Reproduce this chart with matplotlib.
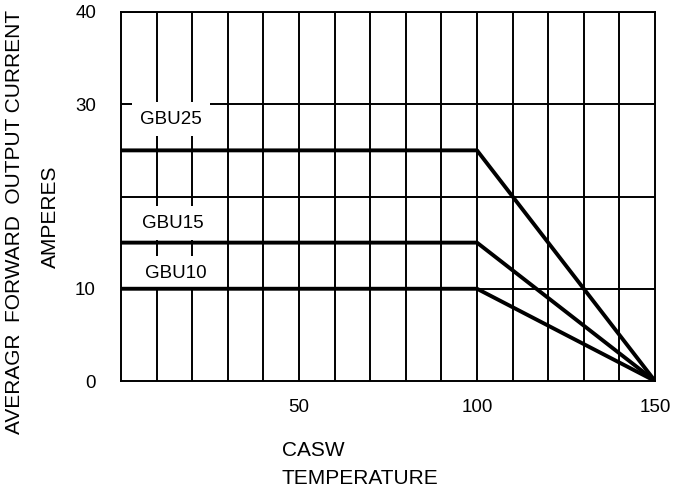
import matplotlib
matplotlib.use("Agg")
import matplotlib.pyplot as plt

plt.rcParams['font.family'] = ['Liberation Sans', 'DejaVu Sans']

temps = [0, 100, 150]
series_names = ["GBU25", "GBU15", "GBU10"]
gbu25 = [25, 25, 0]
gbu15 = [15, 15, 0]
gbu10 = [10, 10, 0]
label_pos = {"GBU25": (14.0, 28.4), "GBU15": (14.6, 17.1), "GBU10": (15.4, 11.7)}

x_ticks = [50, 100, 150]
y_ticks = [0, 10, 30, 40]
y_grid = [10, 20, 30, 40]

fig = plt.figure(figsize=(6.85, 4.91), dpi=100)
ax = fig.add_axes([121/685, 1-381/491, (655-121)/685, (381-12)/491])

ax.set_xlim(0, 150)
ax.set_ylim(0, 40)

for xv in range(10, 150, 10):
    ax.axvline(xv, color='black', lw=1.4, zorder=1)
for yv in y_grid:
    ax.axhline(yv, color='black', lw=1.4, zorder=1)

for name, vals in zip(series_names, [gbu25, gbu15, gbu10]):
    ax.plot(temps, vals, color='black', lw=2.8, zorder=4, solid_capstyle='butt')
    lx, ly = label_pos[name]
    ax.text(lx, ly, name, fontsize=13.5, ha='center', va='center', zorder=3,
            bbox=dict(boxstyle='square,pad=0.45', fc='white', ec='none'))

ax.set_xticks(x_ticks)
ax.set_yticks(y_ticks)
ax.tick_params(length=0, labelsize=13.5)
ax.tick_params(axis='x', pad=13)
ax.tick_params(axis='y', pad=18)
for s in ax.spines.values():
    s.set_linewidth(1.4)

fs_lab = 15
fig.text(282/685, 1-450/491, "CASW", fontsize=fs_lab, ha='left', va='center')
fig.text(282/685, 1-479/491, "TEMPERATURE", fontsize=fs_lab, ha='left', va='center')
fig.text(15/685, 1-222/491, "AVERAGR  FORWARD  OUTPUT CURRENT", fontsize=fs_lab,
         rotation=90, ha='center', va='center')
fig.text(50/685, 1-217/491, "AMPERES", fontsize=fs_lab, rotation=90, ha='center', va='center')

fig.savefig("out.png", dpi=100)
